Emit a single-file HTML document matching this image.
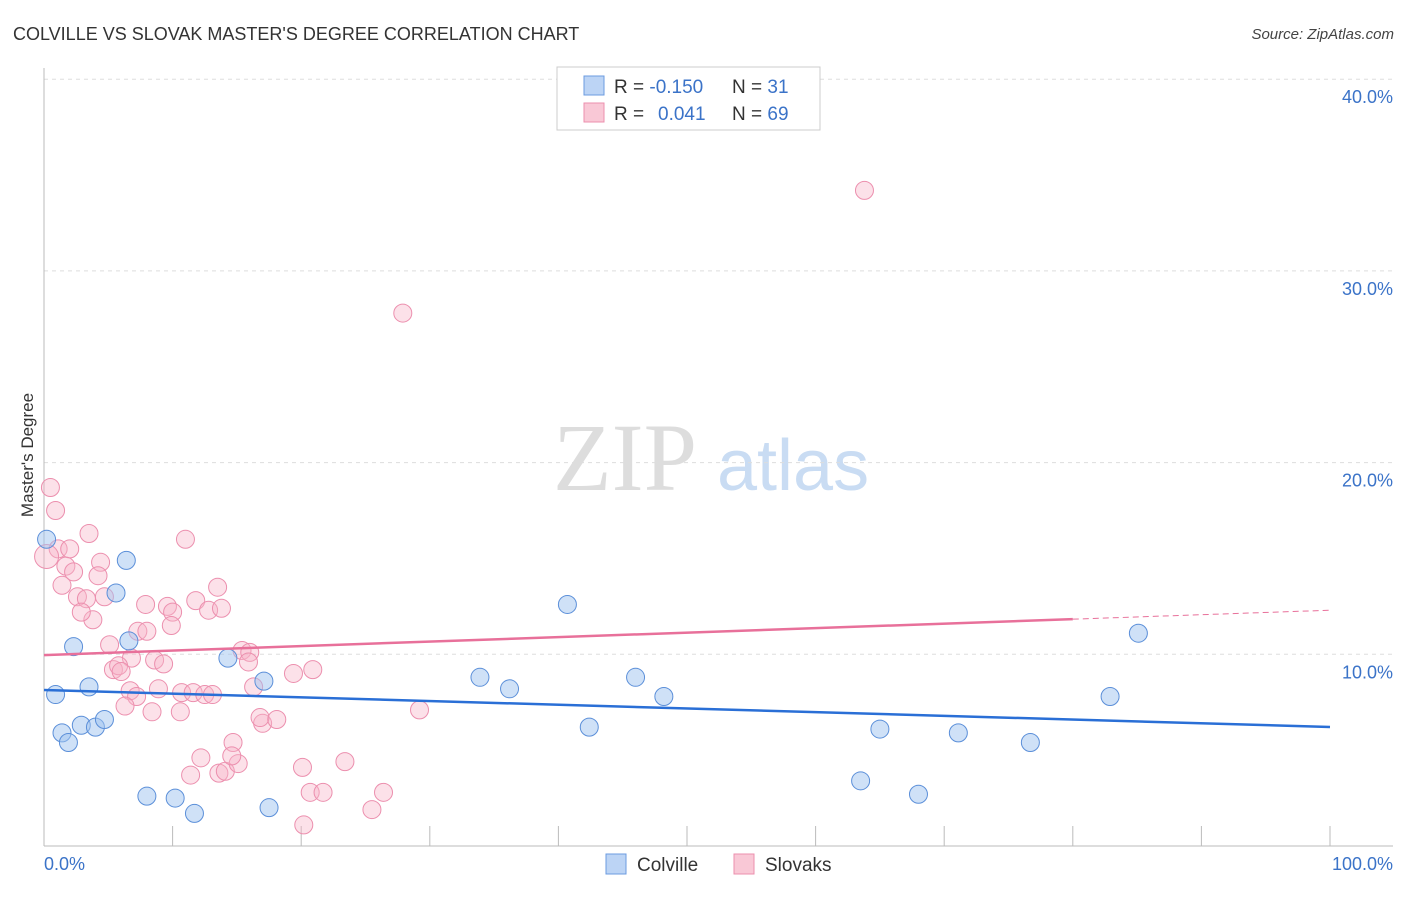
<!DOCTYPE html>
<html><head><meta charset="utf-8">
<style>
body{margin:0;background:#fff;width:1406px;height:892px;overflow:hidden;font-family:"Liberation Sans",sans-serif}
</style></head>
<body>
<svg width="1406" height="892" xmlns="http://www.w3.org/2000/svg">
<text x="13" y="40" font-size="18" fill="#333">COLVILLE VS SLOVAK MASTER'S DEGREE CORRELATION CHART</text>
<text x="1394" y="39" font-size="15" fill="#444" font-style="italic" text-anchor="end">Source: ZipAtlas.com</text>
<g>
<text x="553" y="490" font-size="96" font-family="Liberation Serif,serif" fill="#ddd">ZIP</text>
<text x="717" y="490" font-size="72" fill="#c9dcf3">atlas</text>
</g>
<g id="grid"></g>
<line x1="44" y1="68" x2="44" y2="846" stroke="#bbb"/>
<line x1="44" y1="846" x2="1393" y2="846" stroke="#bbb"/>
<text x="33" y="455" font-size="17" fill="#333" text-anchor="middle" transform="rotate(-90 33 455)">Master's Degree</text>
<text x="44" y="870" font-size="18" fill="#3b73c8">0.0%</text>
<text x="1393" y="870" font-size="18" fill="#3b73c8" text-anchor="end">100.0%</text>
<g id="pts"></g>
<g id="trend"></g>
<g>
<rect x="557" y="67" width="263" height="63" fill="#fff" stroke="#ccc"/>
<rect x="584" y="76" width="20" height="19" fill="#bcd4f5" stroke="#6b9be0"/>
<rect x="584" y="103" width="20" height="19" fill="#f9c8d6" stroke="#ec8fae"/>
<text x="614" y="93" font-size="19" fill="#333">R = <tspan fill="#3b73c8">-0.150</tspan><tspan x="732">N = </tspan><tspan fill="#3b73c8">31</tspan></text>
<text x="614" y="120" font-size="19" fill="#333">R = <tspan fill="#3b73c8" x="658">0.041</tspan><tspan x="732">N = </tspan><tspan fill="#3b73c8">69</tspan></text>
</g>
<g>
<rect x="606" y="854" width="20" height="20" fill="#bcd4f5" stroke="#6b9be0"/>
<text x="637" y="871" font-size="19" fill="#333">Colville</text>
<rect x="734" y="854" width="20" height="20" fill="#f9c8d6" stroke="#ec8fae"/>
<text x="765" y="871" font-size="19" fill="#333">Slovaks</text>
</g>
</svg>
<script>
const yTicks=[10,20,30,40];
const yTickLabels=["10.0%","20.0%","30.0%","40.0%"];
const xTicks=[0,10,20,30,40,50,60,70,80,90,100];
const colvilleX=[0.2,6.4,5.6,2.3,6.6,14.3,17.1,0.9,3.5,1.4,1.9,2.9,4.0,4.7,8.0,10.2,11.7,17.5,40.7,33.9,36.2,46.0,48.2,42.4,65.0,71.1,76.7,82.9,85.1,63.5,68.0];
const colvilleY=[16.0,14.9,13.2,10.4,10.7,9.8,8.6,7.9,8.3,5.9,5.4,6.3,6.2,6.6,2.6,2.5,1.7,2.0,12.6,8.8,8.2,8.8,7.8,6.2,6.1,5.9,5.4,7.8,11.1,3.4,2.7];
const slovakX=[0.5,0.9,3.5,11.0,1.1,2.0,0.2,1.7,2.3,4.4,4.2,1.4,2.6,3.3,4.7,3.8,2.9,7.9,9.6,10.0,9.9,11.8,12.8,13.8,13.5,7.3,8.0,5.1,6.8,5.4,5.8,6.0,8.6,9.3,15.4,16.0,15.9,6.7,7.2,8.9,6.3,8.4,10.6,10.7,11.6,12.5,13.1,16.3,17.0,16.8,18.1,19.4,20.9,29.2,14.7,13.6,12.2,11.4,14.1,15.1,14.6,20.1,23.4,20.7,21.7,26.4,25.5,20.2,27.9,63.8];
const slovakY=[18.7,17.5,16.3,16.0,15.5,15.5,15.1,14.6,14.3,14.8,14.1,13.6,13.0,12.9,13.0,11.8,12.2,12.6,12.5,12.2,11.5,12.8,12.3,12.4,13.5,11.2,11.2,10.5,9.8,9.2,9.4,9.1,9.7,9.5,10.2,10.1,9.6,8.1,7.8,8.2,7.3,7.0,7.0,8.0,8.0,7.9,7.9,8.3,6.4,6.7,6.6,9.0,9.2,7.1,5.4,3.8,4.6,3.7,3.9,4.3,4.7,4.1,4.4,2.8,2.8,2.8,1.9,1.1,27.8,34.2];
const colvilleTrend=[8.14,6.21];
const slovakTrend=[9.96,12.3];
const slovakSolidEnd=80;
const NS="http://www.w3.org/2000/svg";
const sx=v=>44+v*12.86, sy=v=>846-v*19.17;
function mk(t,a,p){const e=document.createElementNS(NS,t);for(const k in a)e.setAttribute(k,a[k]);p.appendChild(e);return e;}
const grid=document.getElementById('grid');
yTicks.forEach((t,i)=>{
 const l=mk('line',{x1:44,x2:1393,y1:sy(t),y2:sy(t),stroke:'#ddd','stroke-dasharray':'4,4'},grid);
 
 
 const tx=mk('text',{x:1393,y:sy(t)+24,'font-size':18,fill:'#3b73c8','text-anchor':'end'},grid);
 tx.textContent=yTickLabels[i];
 
 
});
xTicks.forEach(t=>{
 const l=mk('line',{x1:sx(t),x2:sx(t),y1:826,y2:846,stroke:'#bbb'},grid);
 
 
});
const pts=document.getElementById('pts');
slovakX.forEach((x,i)=>{
 const c=mk('circle',{cx:sx(x),cy:sy(slovakY[i]),r:(i==6?12:9),fill:'rgba(248,180,200,0.4)',stroke:'#ec8fae','stroke-width':1},pts);
 
 
});
colvilleX.forEach((x,i)=>{
 const c=mk('circle',{cx:sx(x),cy:sy(colvilleY[i]),r:9,fill:'rgba(160,195,240,0.5)',stroke:'#5b8fd9','stroke-width':1},pts);
 
 
});
const tr=document.getElementById('trend');
const b=mk('line',{x1:sx(0),y1:sy(colvilleTrend[0]),x2:sx(100),y2:sy(colvilleTrend[1]),stroke:'#2a6fd6','stroke-width':2.5},tr);


const pe=slovakTrend[0]+(slovakTrend[1]-slovakTrend[0])*slovakSolidEnd/100;
const p=mk('line',{x1:sx(0),y1:sy(slovakTrend[0]),x2:sx(slovakSolidEnd),y2:sy(pe),stroke:'#e8709a','stroke-width':2.5},tr);


const pd=mk('line',{x1:sx(slovakSolidEnd),y1:sy(pe),x2:sx(100),y2:sy(slovakTrend[1]),stroke:'#e8709a','stroke-width':1,'stroke-dasharray':'6,4'},tr);


</script>
</body></html>
